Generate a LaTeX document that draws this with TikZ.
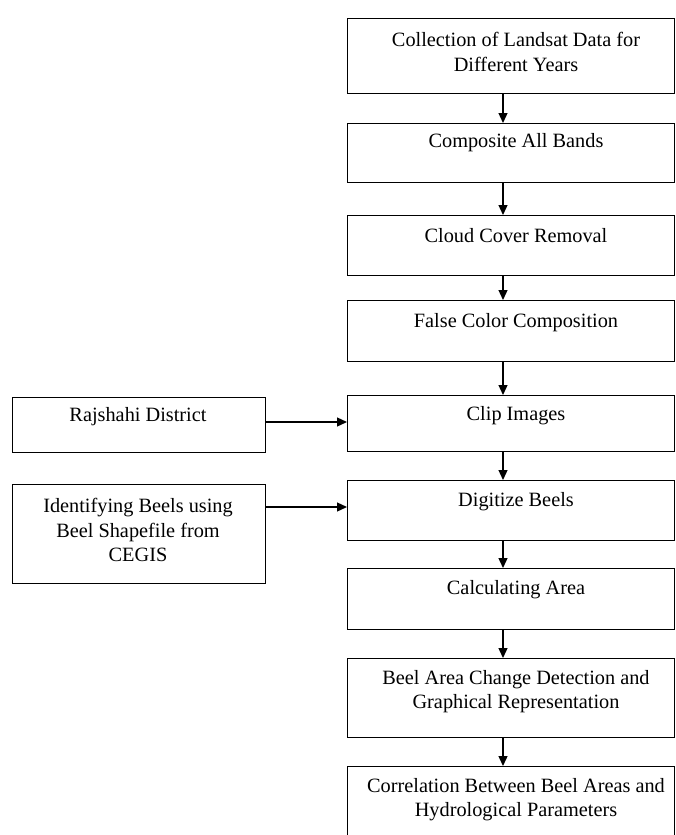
\documentclass[tikz,border=0pt]{standalone}
\usepackage{fontspec}
\setmainfont{Liberation Serif}
\usetikzlibrary{arrows.meta}
\begin{document}
\begin{tikzpicture}[x=1pt,y=-1pt,
  box/.style={draw=black,line width=1.3pt,rectangle,inner sep=0pt,anchor=north west},
  txt/.style={inner sep=0pt,align=center,font=\fontsize{20.3}{24.4}\selectfont},
  arr/.style={draw=black,line width=1.3pt,-{Triangle[length=10pt,width=9pt]}}]
\useasboundingbox (0,0) rectangle (676,835);
\clip (0,0) rectangle (676,835);
% right column boxes
\node[box,minimum width=327pt,minimum height=75pt] (b1) at (347,18) {};
\node[box,minimum width=327pt,minimum height=59pt] (b2) at (347,123) {};
\node[box,minimum width=327pt,minimum height=60pt] (b3) at (347,215) {};
\node[box,minimum width=327pt,minimum height=61pt] (b4) at (347,300) {};
\node[box,minimum width=327pt,minimum height=56pt] (b5) at (347,395) {};
\node[box,minimum width=327pt,minimum height=60pt] (b6) at (347,480) {};
\node[box,minimum width=327pt,minimum height=61pt] (b7) at (347,568) {};
\node[box,minimum width=327pt,minimum height=79pt] (b8) at (347,658) {};
\node[box,minimum width=327pt,minimum height=100pt] (b9) at (347,766) {};
% left boxes
\node[box,minimum width=253pt,minimum height=55pt] (l1) at (12,397) {};
\node[box,minimum width=253pt,minimum height=99pt] (l2) at (12,484) {};
% texts
\node[txt] (t1) at (516,52) {Collection of Landsat Data for\\Different Years};
\node[txt] (t2) at (516,143) {Composite All Bands};
\node[txt] (t3) at (516,236) {Cloud Cover Removal};
\node[txt] (t4) at (516,323) {False Color Composition};
\node[txt] (t5) at (516,416) {Clip Images};
\node[txt] (t6) at (516,502) {Digitize Beels};
\node[txt] (t7) at (516,590) {Calculating Area};
\node[txt] (t8) at (516,691.5) {Beel Area Change Detection and\\Graphical Representation};
\node[txt] (t9) at (516,799.5) {Correlation Between Beel Areas and\\Hydrological Parameters};
\node[txt] (tl1) at (138,417) {Rajshahi District};
\node[txt] (tl2) at (138,530) {Identifying Beels using\\Beel Shapefile from\\CEGIS};
% connector helpers
\coordinate (ax) at (503,0);
\coordinate (h1) at (0,422);
\coordinate (h2) at (0,507);
% vertical arrows
\draw[arr] (b1.south -| ax) -- (b2.north -| ax);
\draw[arr] (b2.south -| ax) -- (b3.north -| ax);
\draw[arr] (b3.south -| ax) -- (b4.north -| ax);
\draw[arr] (b4.south -| ax) -- (b5.north -| ax);
\draw[arr] (b5.south -| ax) -- (b6.north -| ax);
\draw[arr] (b6.south -| ax) -- (b7.north -| ax);
\draw[arr] (b7.south -| ax) -- (b8.north -| ax);
\draw[arr] (b8.south -| ax) -- (b9.north -| ax);
% horizontal arrows
\draw[arr] (l1.east |- h1) -- (b5.west |- h1);
\draw[arr] (l2.east |- h2) -- (b6.west |- h2);
\end{tikzpicture}
\end{document}
